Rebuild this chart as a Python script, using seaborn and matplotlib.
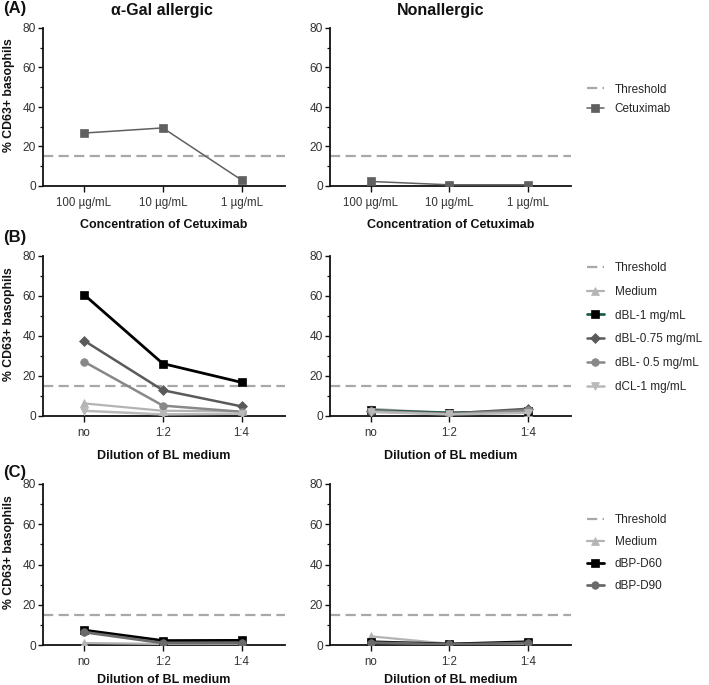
import numpy as np
import pandas as pd
import matplotlib
matplotlib.use("Agg")
import matplotlib.pyplot as plt
from matplotlib.ticker import MultipleLocator
import seaborn as sns

sns.set_theme(style="ticks")
plt.rcParams['font.family'] = ['Liberation Sans', 'DejaVu Sans']

# ---------------- data ----------------
conc_labels = ["100 µg/mL", "10 µg/mL", "1 µg/mL"]
dil_labels = ["no", "1:2", "1:4"]
threshold = 15

# Row A: Cetuximab
cetux_allergic = [26.8, 29.4, 3.0]
cetux_nonallergic = [2.3, 0.6, 0.6]

# Row B: BL medium dilutions
b_all_medium = [6.3, 2.6, 2.4]
b_all_dbl1 = [60.7, 26.2, 16.8]
b_all_dbl075 = [37.7, 12.9, 4.8]
b_all_dbl05 = [27.2, 5.2, 2.1]
b_all_dcl1 = [2.6, 0.8, 1.2]

b_non_medium = [3.6, 1.4, 2.2]
b_non_dbl1 = [2.8, 1.6, 2.4]
b_non_dbl075 = [2.6, 1.2, 3.6]
b_non_dbl05 = [2.4, 1.0, 2.8]
b_non_dcl1 = [2.0, 0.8, 1.6]

# Row C: BP dilutions
c_all_medium = [1.0, 0.5, 0.5]
c_all_dbp60 = [7.4, 2.2, 2.3]
c_all_dbp90 = [6.4, 1.0, 1.0]

c_non_medium = [4.3, 0.6, 0.6]
c_non_dbp60 = [1.6, 0.5, 1.6]
c_non_dbp90 = [1.2, 0.3, 1.0]

# ---------------- styles ----------------
STY = {
    "Cetuximab": dict(color="#606060", marker="s", lw=1.1, ms=5.5, mfc="#606060"),
    "Medium": dict(color="#b4b4b4", marker="^", lw=1.6, ms=5.5, mfc="#b4b4b4"),
    "dBL-1 mg/mL": dict(color="#000000", marker="s", lw=2.0, ms=5.5, mfc="#000000"),
    "dBL-0.75 mg/mL": dict(color="#5a5a5a", marker="D", lw=1.8, ms=5, mfc="#5a5a5a"),
    "dBL- 0.5 mg/mL": dict(color="#888888", marker="o", lw=1.8, ms=5.5, mfc="#888888"),
    "dCL-1 mg/mL": dict(color="#b9b9b9", marker="v", lw=1.8, ms=5.5, mfc="#b9b9b9"),
    "dBP-D60": dict(color="#000000", marker="s", lw=2.0, ms=5.5, mfc="#000000"),
    "dBP-D90": dict(color="#6a6a6a", marker="o", lw=2.0, ms=5.5, mfc="#6a6a6a"),
}
GREEN = "#1f5e4c"

fig = plt.figure(figsize=(7.09, 6.85), dpi=100)
W, H = 709, 685


def add_ax(x0, top, x1, bottom):
    return fig.add_axes([x0 / W, 1 - bottom / H, (x1 - x0) / W, (bottom - top) / H])


rows = [(28, 186), (256, 416), (484, 645)]
axes = []
for top, bot in rows:
    axes.append((add_ax(43, top, 285, bot), add_ax(330, top, 571, bot)))


def draw(ax, cats, series, override=None):
    ax.axhline(threshold, color="#a8a8a8", ls=(0, (4.6, 2.4)), lw=1.6,
               label="Threshold", zorder=1)
    for name, vals in series:
        s = dict(STY[name])
        if override and name in override:
            s.update(override[name])
        df = pd.DataFrame({"x": cats, "y": vals})
        sns.lineplot(data=df, x="x", y="y", ax=ax, sort=False, color=s["color"],
                     marker=s["marker"], linewidth=s["lw"], markersize=s["ms"],
                     markerfacecolor=s["mfc"], markeredgecolor=s["mfc"],
                     markeredgewidth=0.5, label=name, legend=False, zorder=3)
    ax.set_ylim(0, 80)
    ax.set_xlim(-0.52, 2.55)
    ax.yaxis.set_major_locator(MultipleLocator(20))
    ax.yaxis.set_minor_locator(MultipleLocator(10))
    sns.despine(ax=ax)
    for sp in ("left", "bottom"):
        ax.spines[sp].set_linewidth(1.3)
        ax.spines[sp].set_color("#111111")
    ax.tick_params(axis="y", which="major", length=3.5, width=1.0, labelsize=8.6,
                   pad=1.5, colors="#111111", labelcolor="#333333")
    ax.tick_params(axis="y", which="minor", length=2, width=0.9, colors="#111111")
    ax.tick_params(axis="x", which="major", length=4, width=1.0, labelsize=8.3,
                   pad=4, colors="#111111", labelcolor="#333333")
    ax.set_ylabel("")
    ax.set_xlabel("")


# Row A
draw(axes[0][0], conc_labels, [("Cetuximab", cetux_allergic)])
draw(axes[0][1], conc_labels, [("Cetuximab", cetux_nonallergic)])
# Row B
draw(axes[1][0], dil_labels, [("Medium", b_all_medium), ("dBL-1 mg/mL", b_all_dbl1),
                              ("dBL-0.75 mg/mL", b_all_dbl075), ("dBL- 0.5 mg/mL", b_all_dbl05),
                              ("dCL-1 mg/mL", b_all_dcl1)])
draw(axes[1][1], dil_labels, [("Medium", b_non_medium), ("dBL-1 mg/mL", b_non_dbl1),
                              ("dBL-0.75 mg/mL", b_non_dbl075), ("dBL- 0.5 mg/mL", b_non_dbl05),
                              ("dCL-1 mg/mL", b_non_dcl1)],
     override={"dBL-1 mg/mL": dict(color=GREEN)})
# Row C
draw(axes[2][0], dil_labels, [("Medium", c_all_medium), ("dBP-D60", c_all_dbp60),
                              ("dBP-D90", c_all_dbp90)])
draw(axes[2][1], dil_labels, [("Medium", c_non_medium), ("dBP-D60", c_non_dbp60),
                              ("dBP-D90", c_non_dbp90)])

xlabels = ["Concentration of Cetuximab", "Dilution of BL medium", "Dilution of BL medium"]
xlab_pad = [7, 7.5, 4.5]
for i, (axl, axr) in enumerate(axes):
    for ax in (axl, axr):
        ax.set_xlabel(xlabels[i], fontsize=9, fontweight="bold", labelpad=xlab_pad[i],
                      color="#111111")
    axl.set_ylabel("% CD63+ basophils", fontsize=8.8, fontweight="bold", color="#111111")
    axl.yaxis.set_label_coords(-0.116, 0.575)

# legends
leg_specs = [(0.55, 0.6), (0.553, 1.0), (0.571, 0.85)]
for (axl, axr), (ly, lsp) in zip(axes, leg_specs):
    axr.legend(loc="center left", bbox_to_anchor=(1.066, ly), frameon=False,
               fontsize=8.5, handlelength=1.45, handletextpad=0.9,
               labelspacing=lsp, borderaxespad=0, borderpad=0)

# titles & panel letters
fig.text(162 / W, 1 - 10 / H, "α-Gal allergic", ha="center", va="center",
         fontsize=11.5, fontweight="bold", color="#111111")
fig.text(441 / W, 1 - 10 / H, "Nonallergic", ha="center", va="center",
         fontsize=11.5, fontweight="bold", color="#111111")
for lab, yy in zip(["(A)", "(B)", "(C)"], [9, 238, 473]):
    fig.text(3 / W, 1 - yy / H, lab, ha="left", va="center", fontsize=12,
             fontweight="bold", color="#111111")

fig.savefig("out.png", dpi=100)
